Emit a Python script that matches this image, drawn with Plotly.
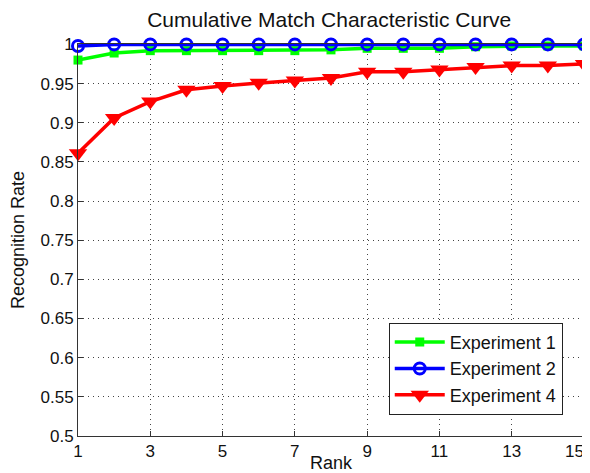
import plotly.graph_objects as go

ranks = list(range(1, 16))
exp1 = [0.980, 0.989, 0.992, 0.992, 0.992, 0.992, 0.992, 0.993, 0.995, 0.995, 0.995, 0.997, 0.998, 0.998, 0.998]
exp2 = [0.998, 1.0, 1.0, 1.0, 1.0, 1.0, 1.0, 1.0, 1.0, 1.0, 1.0, 1.0, 1.0, 1.0, 1.0]
exp4 = [0.861, 0.906, 0.927, 0.942, 0.947, 0.951, 0.954, 0.957, 0.965, 0.965, 0.968, 0.971, 0.973, 0.973, 0.975]
xticks = [1, 3, 5, 7, 9, 11, 13, 15]
xtick_text = ["1", "3", "5", "7", "9", "11", "13", "15\u00a0\u00a0\u00a0\u00a0"]
yticks = [0.5, 0.55, 0.6, 0.65, 0.7, 0.75, 0.8, 0.85, 0.9, 0.95, 1.0]
ytick_text = ["0.5", "0.55", "0.6", "0.65", "0.7", "0.75", "0.8", "0.85", "0.9", "0.95", "1"]

FONT = "Liberation Sans, Arial"

fig = go.Figure()
fig.add_trace(go.Scatter(x=ranks, y=exp1, name="Experiment 1", mode="lines+markers", cliponaxis=False,
                         line=dict(color="#00ff00", width=3.5),
                         marker=dict(symbol="square", size=9, color="#00ff00")))
fig.add_trace(go.Scatter(x=ranks, y=exp2, name="Experiment 2", mode="lines+markers", cliponaxis=False,
                         line=dict(color="#0000ff", width=3.5),
                         marker=dict(symbol="circle-open", size=11, color="#0000ff", line=dict(width=3))))
fig.add_trace(go.Scatter(x=ranks, y=exp4, name="Experiment 4", mode="lines+markers", cliponaxis=False,
                         line=dict(color="#ff0000", width=3.5),
                         marker=dict(symbol="triangle-down", size=16, color="#ff0000")))

axis_common = dict(showline=True, linecolor="#333", linewidth=1, mirror=True, automargin=False,
                   showgrid=True, gridcolor="#444", griddash="1px,4px", gridwidth=1,
                   ticks="inside", ticklen=5, tickcolor="#333", zeroline=False,
                   tickfont=dict(family=FONT, size=17, color="#111"))

fig.update_xaxes(range=[1, 15.0005], tickvals=xticks, ticktext=xtick_text, ticklabeloverflow="allow",
                 title=dict(text="Rank", standoff=0, font=dict(family=FONT, size=18, color="#111")),
                 **axis_common)
fig.update_yaxes(range=[0.5, 1.0005], tickvals=yticks, ticktext=ytick_text,
                 title=dict(text="Recognition Rate", standoff=18, font=dict(family=FONT, size=18, color="#111")),
                 **axis_common)

# The page body has an 8px margin, so the figure is sized/offset to land on the reference pixels.
fig.update_layout(
    width=582, height=465,
    paper_bgcolor="white", plot_bgcolor="white",
    margin=dict(l=70, r=6, t=36, b=37, autoexpand=False),
    title=dict(text="Cumulative Match Characteristic Curve", x=0.552, xanchor="center", y=0.974, yanchor="middle",
               font=dict(family=FONT, size=21, color="#111")),
    legend=dict(x=0.958, y=0.054, xanchor="right", yanchor="bottom",
                bgcolor="white", bordercolor="#222", borderwidth=1,
                font=dict(family=FONT, size=18, color="#111"),
                tracegroupgap=0, itemwidth=50),
    showlegend=True,
)

fig.write_html("out.html")
